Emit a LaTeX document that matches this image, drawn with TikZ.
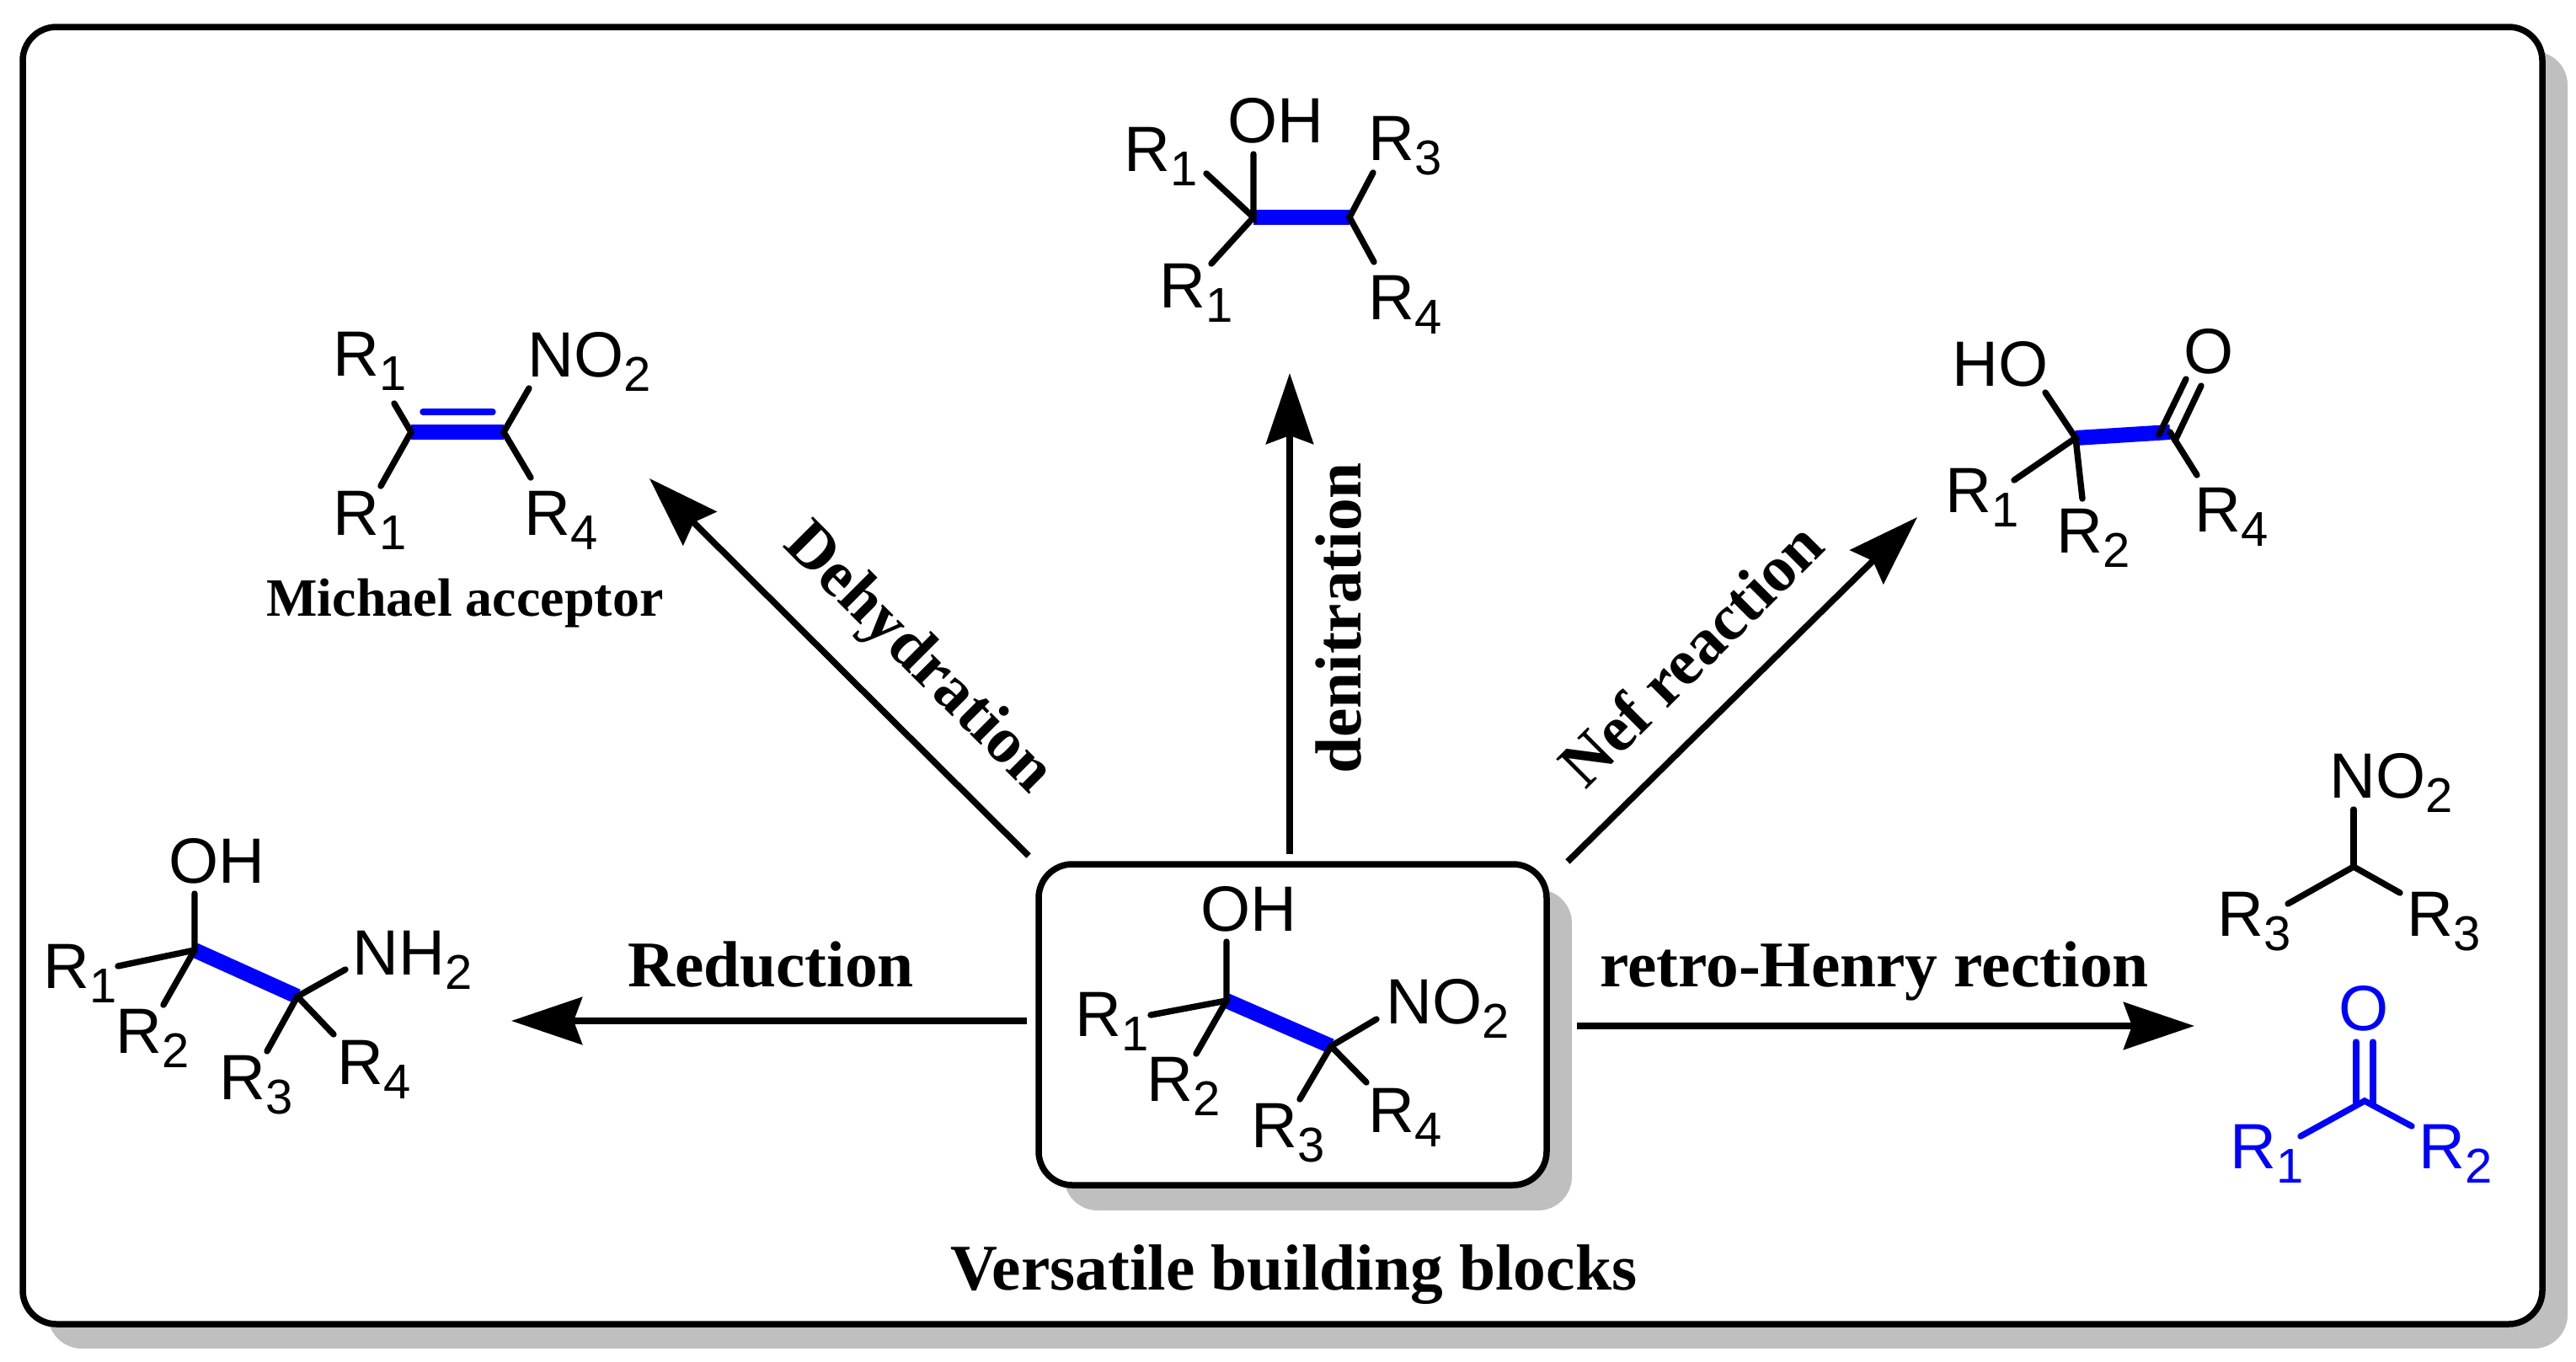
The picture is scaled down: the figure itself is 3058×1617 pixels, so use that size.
\documentclass[tikz,border=0pt]{standalone}
\usepackage{fontspec}
\setmainfont{Liberation Sans}
\newfontfamily\boldserif[BoldFont=Liberation Serif Bold]{Liberation Serif}
\usetikzlibrary{arrows.meta}
\newcommand{\sbs}[1]{\raisebox{-8.5pt}{\fontsize{29}{29}\selectfont #1}}
\tikzset{
  atom/.style={anchor=base west,inner sep=0pt,font=\fontsize{38}{38}\selectfont},
  note/.style={inner sep=0pt,font=\fontsize{38.7}{38.7}\boldserif\bfseries},
  bond/.style={line width=3.7pt,line cap=round},
  hilite/.style={line width=9pt,blue},
  thinblue/.style={line width=3.7pt,line cap=round,blue},
  reaction/.style={line width=3.8pt,-{Stealth[length=42pt,width=28pt,inset=5pt]}},
  frame/.style={draw,line width=3.75pt,rounded corners=20pt,fill=white},
  shade/.style={fill=black!25,rounded corners=20pt}
}
\begin{document}
\begin{tikzpicture}[x=0.5pt,y=-0.5pt]
  \useasboundingbox (0,0) rectangle (3058,1617);
  % outer frame
  \fill[shade] (57,61) rectangle (3048,1601);
  \draw[frame] (27,32) rectangle (3018,1572);
  % central compound
  \fill[shade] (1263,1056) rectangle (1866,1437);
  \node[frame,minimum width=301.5pt,minimum height=190.5pt] (core) at (1534.5,1216.5) {};
  \coordinate (coreA) at (1456,1188);
  \coordinate (coreB) at (1580,1242);
  \coordinate (coreOH) at (1456,1118);
  \coordinate (coreR1) at (1366,1205);
  \coordinate (coreR2) at (1420,1251);
  \coordinate (coreNO) at (1634,1210);
  \coordinate (coreR3) at (1543,1305);
  \coordinate (coreR4) at (1622,1285);
  \draw[hilite] (coreA) -- (coreB);
  \draw[bond] (coreOH) -- (coreA) -- (coreR1);
  \draw[bond] (coreA) -- (coreR2);
  \draw[bond] (coreNO) -- (coreB) -- (coreR3);
  \draw[bond] (coreB) -- (coreR4);
  \node[atom] (coreOHt) at (1425,1105) {OH};
  \node[atom] (coreR1t) at (1276,1230) {R\sbs{1}};
  \node[atom] (coreR2t) at (1361,1307) {R\sbs{2}};
  \node[atom] (coreNOt) at (1645,1215) {NO\sbs{2}};
  \node[atom] (coreR3t) at (1485,1362) {R\sbs{3}};
  \node[atom] (coreR4t) at (1624,1344) {R\sbs{4}};
  % amine
  \coordinate (amA) at (231,1128);
  \coordinate (amB) at (353,1183);
  \coordinate (amOH) at (231,1061);
  \coordinate (amR1) at (140,1147);
  \coordinate (amR2) at (194,1193);
  \coordinate (amNH) at (410,1151);
  \coordinate (amR3) at (317,1248);
  \coordinate (amR4) at (396,1228);
  \draw[hilite] (amA) -- (amB);
  \draw[bond] (amOH) -- (amA) -- (amR1);
  \draw[bond] (amA) -- (amR2);
  \draw[bond] (amNH) -- (amB) -- (amR3);
  \draw[bond] (amB) -- (amR4);
  \node[atom] (amOHt) at (200,1048) {OH};
  \node[atom] (amR1t) at (51,1173) {R\sbs{1}};
  \node[atom] (amR2t) at (137,1250) {R\sbs{2}};
  \node[atom] (amNHt) at (418,1157) {NH\sbs{2}};
  \node[atom] (amR3t) at (260,1305) {R\sbs{3}};
  \node[atom] (amR4t) at (400,1287) {R\sbs{4}};
  % michael acceptor
  \coordinate (miA) at (488,513);
  \coordinate (miB) at (598,513);
  \coordinate (miR1) at (468,479);
  \coordinate (miR2) at (452,577);
  \coordinate (miNO) at (628,461);
  \coordinate (miR4) at (630,567);
  \coordinate (miC) at (502,489);
  \coordinate (miD) at (585,489);
  \draw[hilite] (miA) -- (miB);
  \draw[thinblue] (miC) -- (miD);
  \draw[bond] (miR1) -- (miA) -- (miR2);
  \draw[bond] (miNO) -- (miB) -- (miR4);
  \node[atom] (miR1t) at (395,446) {R\sbs{1}};
  \node[atom] (miNOt) at (626,447) {NO\sbs{2}};
  \node[atom] (miR2t) at (395,635) {R\sbs{1}};
  \node[atom] (miR4t) at (622,635) {R\sbs{4}};
  \node[note,font=\fontsize{32}{32}\boldserif\bfseries,anchor=base] (mitxt) at (552,731) {Michael acceptor};
  % denitrated product
  \coordinate (deA) at (1488,258);
  \coordinate (deB) at (1602,258);
  \coordinate (deOH) at (1488,183);
  \coordinate (deR1) at (1432,206);
  \coordinate (deR2) at (1438,313);
  \coordinate (deR3) at (1630,205);
  \coordinate (deR4) at (1631,311);
  \draw[hilite] (deA) -- (deB);
  \draw[bond] (deOH) -- (deA) -- (deR1);
  \draw[bond] (deA) -- (deR2);
  \draw[bond] (deR3) -- (deB) -- (deR4);
  \node[atom] (deOHt) at (1457,169) {OH};
  \node[atom] (deR1t) at (1334,203) {R\sbs{1}};
  \node[atom] (deR2t) at (1376,365) {R\sbs{1}};
  \node[atom] (deR3t) at (1624,190) {R\sbs{3}};
  \node[atom] (deR4t) at (1624,379) {R\sbs{4}};
  % nef product
  \coordinate (neA) at (2464,520);
  \coordinate (neB) at (2576,513);
  \coordinate (neHO) at (2428,466);
  \coordinate (neR1) at (2391,570);
  \coordinate (neR2) at (2472,592);
  \coordinate (neR4) at (2608,564);
  \coordinate (neP) at (2563,516);
  \coordinate (neQ) at (2595,450);
  \coordinate (neS) at (2582,523);
  \coordinate (neT) at (2613,458);
  \draw[hilite] (neA) -- (neB);
  \draw[bond] (neHO) -- (neA) -- (neR1);
  \draw[bond] (neA) -- (neR2);
  \draw[bond] (neB) -- (neR4);
  \draw[bond] (neP) -- (neQ);
  \draw[bond] (neS) -- (neT);
  \node[atom] (neHOt) at (2317,458) {HO};
  \node[atom] (neOt) at (2592,443) {O};
  \node[atom] (neR1t) at (2309,608) {R\sbs{1}};
  \node[atom] (neR2t) at (2441,656) {R\sbs{2}};
  \node[atom] (neR4t) at (2605,631) {R\sbs{4}};
  % nitroalkane
  \coordinate (niC) at (2794,1029);
  \coordinate (niNO) at (2794,961);
  \coordinate (niL) at (2716,1073);
  \coordinate (niR) at (2849,1060);
  \draw[bond] (niNO) -- (niC);
  \draw[bond] (niL) -- (niC) -- (niR);
  \node[atom] (niNOt) at (2765,947) {NO\sbs{2}};
  \node[atom] (niLt) at (2632,1111) {R\sbs{3}};
  \node[atom] (niRt) at (2857,1111) {R\sbs{3}};
  % ketone
  \coordinate (keC) at (2807,1307);
  \coordinate (keL) at (2731,1349);
  \coordinate (keR) at (2863,1337);
  \coordinate (keP) at (2797,1237);
  \coordinate (keQ) at (2797,1309);
  \coordinate (keS) at (2817,1237);
  \coordinate (keT) at (2817,1309);
  \draw[thinblue] (keL) -- (keC) -- (keR);
  \draw[thinblue] (keP) -- (keQ);
  \draw[thinblue] (keS) -- (keT);
  \node[atom,blue] (keOt) at (2776,1223) {O};
  \node[atom,blue] (keLt) at (2647,1387) {R\sbs{1}};
  \node[atom,blue] (keRt) at (2871,1387) {R\sbs{2}};
  % reactions
  \coordinate (redS) at (1219,1212);
  \coordinate (redE) at (607,1212);
  \coordinate (dehS) at (1221,1016);
  \coordinate (dehE) at (771,568);
  \coordinate (denS) at (1531,1014);
  \coordinate (denE) at (1531,443);
  \coordinate (nefS) at (1861,1023);
  \coordinate (nefE) at (2276,614);
  \coordinate (retS) at (1872,1218);
  \coordinate (retE) at (2605,1218);
  \draw[reaction] (redS) -- (redE);
  \draw[reaction] (dehS) -- (dehE);
  \draw[reaction] (denS) -- (denE);
  \draw[reaction] (nefS) -- (nefE);
  \draw[reaction] (retS) -- (retE);
  \node[note,anchor=base] (redtxt) at (915,1171) {Reduction};
  \node[note,anchor=base] (rettxt) at (2225,1171) {retro-Henry rection};
  \node[note,anchor=base] (vertxt) at (1536,1531) {Versatile building blocks};
  \node[note,rotate=-45] (dehtxt) at (1089,783) {Dehydration};
  \node[note,rotate=90] (dentxt) at (1589,734) {denitration};
  \node[note,rotate=45] (neftxt) at (2007,776) {Nef reaction};
\end{tikzpicture}
\end{document}
